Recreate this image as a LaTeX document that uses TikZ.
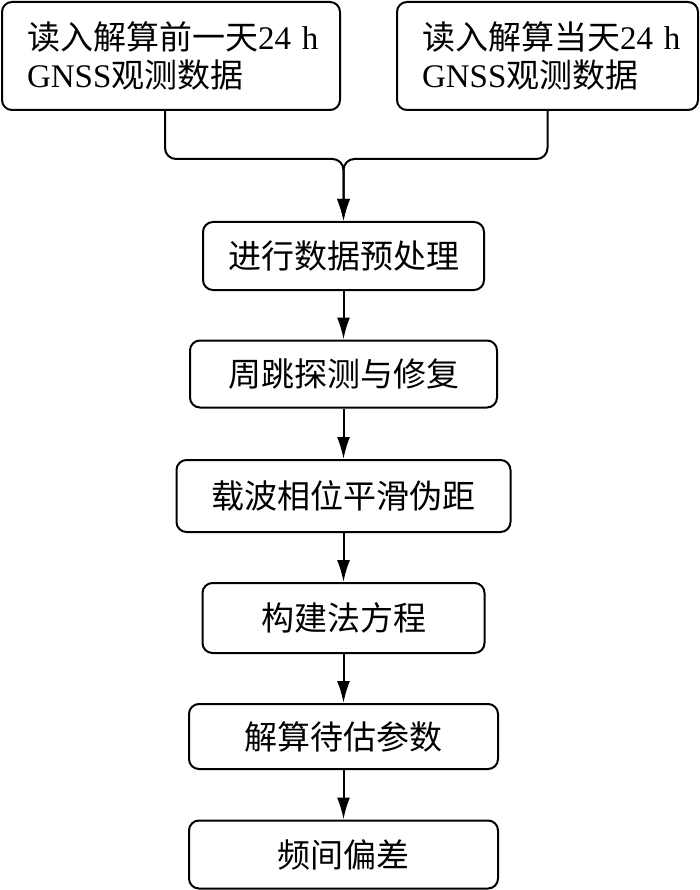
\documentclass[tikz,border=0pt]{standalone}
\usepackage{fontspec}
\setmainfont{Liberation Serif}
\newfontfamily\cjk{Noto Sans CJK SC}
\usepackage{tikz}
\usetikzlibrary{arrows.meta}

\begin{document}
\begin{tikzpicture}[
    x=1pt, y=-1pt,
    every node/.style={draw, line width=2pt, rounded corners=10pt,
        font=\fontsize{33}{38}\selectfont\cjk},
    stepbox/.style={minimum height=68pt, inner sep=0pt},
    inbox/.style={minimum height=108pt, align=left, inner xsep=25pt, inner ysep=0pt},
    arrow/.style={draw, ->, line width=2pt, >={Latex[length=22pt,width=13pt]}}
]
\useasboundingbox (0,0) rectangle (700,890);

% input data
\node[inbox, text width=288pt] (inPrev) at (171,56)
    {读入解算前一天{\rmfamily 24~h}\\{\rmfamily GNSS}观测数据};
\node[inbox, text width=251pt] (inCurr) at (547.5,56)
    {读入解算当天{\rmfamily 24~h}\\{\rmfamily GNSS}观测数据};

% processing steps
\node[stepbox, minimum width=281pt] (pre) at (343.5,256) {进行数据预处理};
\node[stepbox, minimum width=307pt, minimum height=67pt] (slip) at (343.5,374) {周跳探测与修复};
\node[stepbox, minimum width=334pt, minimum height=72pt] (smooth) at (343.5,496) {载波相位平滑伪距};
\node[stepbox, minimum width=282pt, minimum height=70pt] (normal) at (343.5,618) {构建法方程};
\node[stepbox, minimum width=309pt, minimum height=65pt] (solve) at (343.5,736.5) {解算待估参数};
\node[stepbox, minimum width=309pt, minimum height=68pt] (ifb) at (343.5,854.5) {频间偏差};

% merge both inputs
\coordinate (join) at ([yshift=62pt]pre.north);
\draw[arrow, rounded corners=11pt] ([xshift=-6pt]inPrev.south) |- (join) -- (pre.north);
\draw[arrow, rounded corners=11pt] (inCurr.south) |- (join) -- (pre.north);

% chain of steps
\foreach \a/\b in {pre/slip, slip/smooth, smooth/normal, normal/solve, solve/ifb}
    \draw[arrow] (\a) -- (\b);
\end{tikzpicture}
\end{document}
